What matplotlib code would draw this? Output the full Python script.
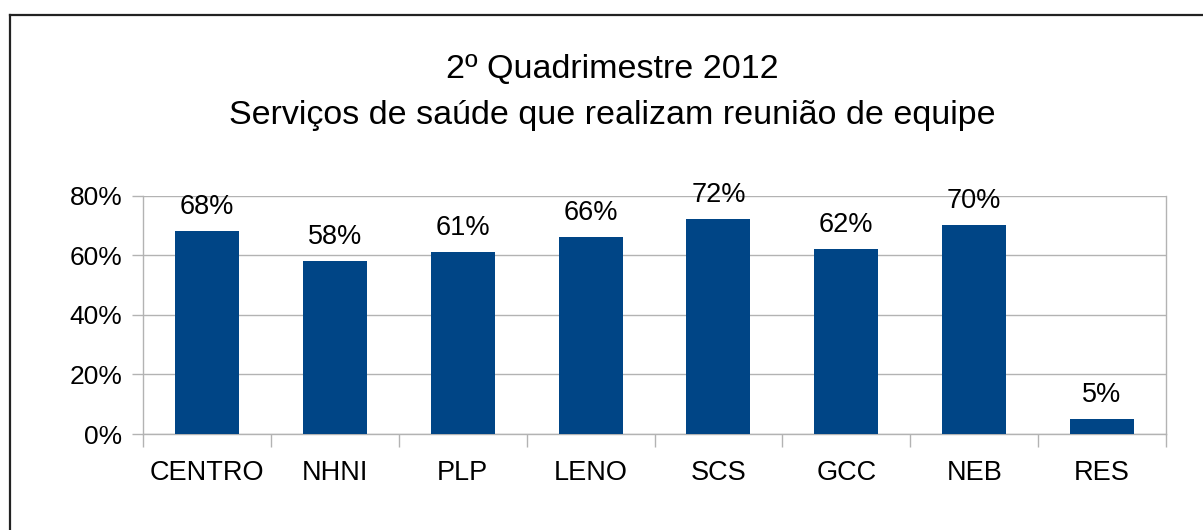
import numpy as np
import matplotlib
matplotlib.use("Agg")
import matplotlib.pyplot as plt
from matplotlib.lines import Line2D

plt.rcParams["font.family"] = ["Liberation Sans", "DejaVu Sans"]

# ---- data ----
categories = ["CENTRO", "NHNI", "PLP", "LENO", "SCS", "GCC", "NEB", "RES"]
values = [68, 58, 61, 66, 72, 62, 70, 5]          # percent
yticks = [0, 20, 40, 60, 80]

title_1 = "2º Quadrimestre 2012"
title_2 = "Serviços de saúde que realizam reunião de equipe"

BAR = "#004586"
GRID = "#b3b3b3"
INK = "#000000"

W, H = 1203, 530
fig = plt.figure(figsize=(W / 100, H / 100), dpi=100)
fig.patch.set_facecolor("white")

# plot area in pixel terms
L, R, T, B = 143, 1166, 195.5, 434
ax = fig.add_axes([L / W, (H - B) / H, (R - L) / W, (B - T) / H])

x = np.arange(len(categories))
ax.bar(x, values, width=0.5, color=BAR, zorder=3)

for xi, v in zip(x, values):
    ax.annotate(f"{v}%", (xi, v), xytext=(0, 8), textcoords="offset points",
                ha="center", va="bottom", fontsize=19.5, color=INK)

ax.set_xlim(-0.5, len(categories) - 0.5)
ax.set_ylim(0, 80)
ax.set_yticks(yticks)
ax.set_yticklabels([f"{t}%" for t in yticks])
ax.set_xticks(x)
ax.set_xticklabels(categories)
ax.set_xticks(np.arange(len(categories) + 1) - 0.5, minor=True)

ax.yaxis.grid(True, color=GRID, linewidth=1.0, zorder=0)
ax.tick_params(axis="y", length=8, width=1.0, color=GRID, pad=7,
               labelsize=19, labelcolor=INK)
ax.tick_params(axis="x", which="major", length=0, pad=19,
               labelsize=19.5, labelcolor=INK)
ax.tick_params(axis="x", which="minor", length=9.5, width=1.0, color=GRID)

for s in ["left", "right", "bottom"]:
    ax.spines[s].set_color(GRID)
    ax.spines[s].set_linewidth(1.0)
ax.spines["top"].set_visible(False)

# titles (centred a bit right of the picture's middle, as in the source)
TX = 612 / W
fig.text(TX, 1 - 70 / H, title_1, ha="center", va="center", fontsize=24.5, color=INK)
fig.text(TX, 1 - 115 / H, title_2, ha="center", va="center", fontsize=24.5, color=INK)

# outer frame (top and left visible, rest runs off the picture)
fig.add_artist(Line2D([10 / W, 10 / W], [1 - 15 / H, -0.1], color="#222222",
                      linewidth=1.6, transform=fig.transFigure))
fig.add_artist(Line2D([10 / W, 1.1], [1 - 15 / H, 1 - 15 / H], color="#222222",
                      linewidth=1.6, transform=fig.transFigure))

fig.savefig("out.png", dpi=100)
